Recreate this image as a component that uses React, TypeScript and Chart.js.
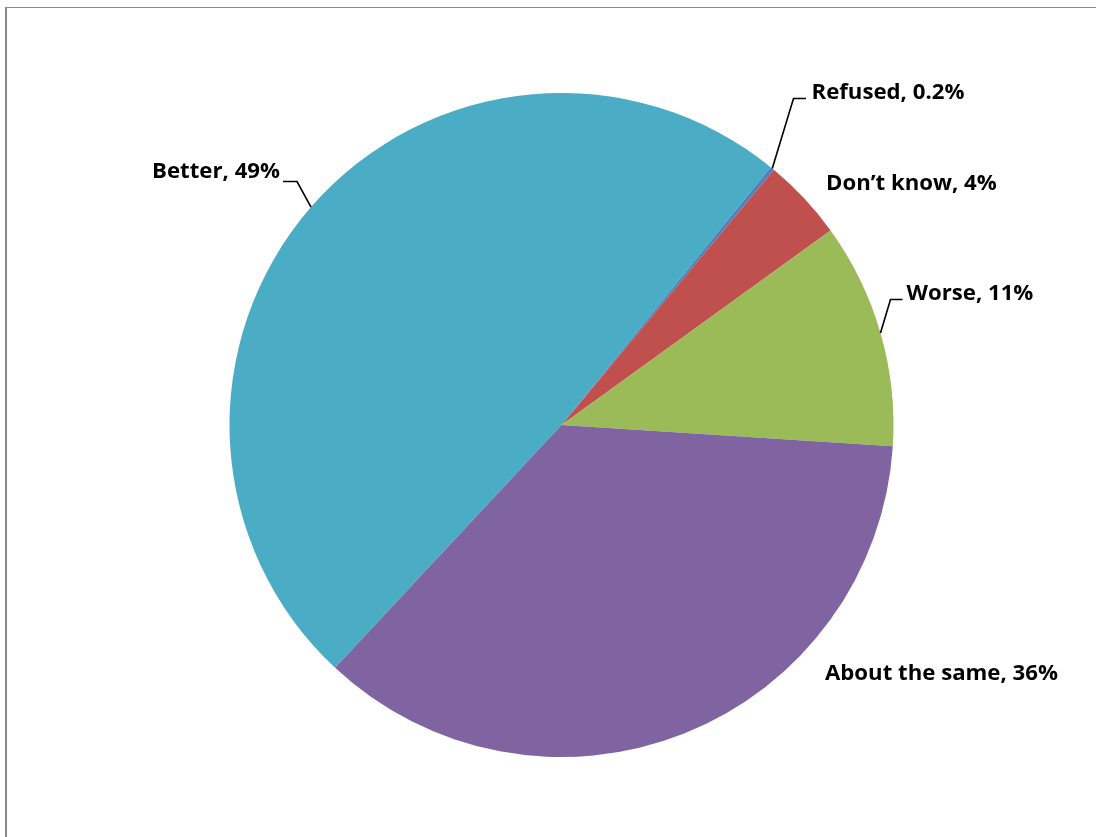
import React, { useEffect, useRef } from "react";
import { Chart, registerables } from "chart.js";

Chart.register(...registerables);

const categories = ["Better", "Refused", "Don\u2019t know", "Worse", "About the same"];
const values = [49, 0.2, 4, 11, 36];
const valueLabels = ["49%", "0.2%", "4%", "11%", "36%"];
const colors = ["#4BACC6", "#4F81BD", "#C0504D", "#9BBB59", "#8064A2"];

// label placement (text anchor, alignment, leader elbow + end)
const labelLayout: { x: number; y: number; align: "left" | "right"; leader: number[][] | null }[] = [
  { x: 280, y: 171, align: "right", leader: [[297, 181.5], [283, 181.5]] },
  { x: 811.5, y: 91.5, align: "left", leader: [[793.5, 98.5], [806, 98.5]] },
  { x: 826, y: 182.5, align: "left", leader: null },
  { x: 906.5, y: 292.5, align: "left", leader: [[890.5, 299.5], [902.5, 299.5]] },
  { x: 825, y: 672.5, align: "left", leader: null },
];

const FONT_FAMILY = "'Open Sans'";
const TARGET_WIDTH = 233; // width of the longest label in the reference

const labelPlugin = {
  id: "pieLabels",
  afterDatasetsDraw(chart: any) {
    const ctx = chart.ctx;
    const meta = chart.getDatasetMeta(0);
    ctx.save();
    const texts = categories.map((c, i) => `${c}, ${valueLabels[i]}`);
    ctx.font = `bold 20px ${FONT_FAMILY}`;
    const longest = Math.max(...texts.map((t) => ctx.measureText(t).width));
    const size = (20 * TARGET_WIDTH) / longest;
    meta.data.forEach((arc: any, i: number) => {
      const { x, y, outerRadius, startAngle, endAngle } = arc.getProps(
        ["x", "y", "outerRadius", "startAngle", "endAngle"],
        true
      );
      const mid = (startAngle + endAngle) / 2;
      const ax = x + outerRadius * Math.cos(mid);
      const ay = y + outerRadius * Math.sin(mid);
      const lay = labelLayout[i];
      if (lay.leader) {
        ctx.beginPath();
        ctx.moveTo(ax, ay);
        lay.leader.forEach((p) => ctx.lineTo(p[0], p[1]));
        ctx.strokeStyle = "#000000";
        ctx.lineWidth = 1.6;
        ctx.lineJoin = "miter";
        ctx.stroke();
      }
      ctx.font = `bold ${size.toFixed(2)}px ${FONT_FAMILY}`;
      ctx.fillStyle = "#000000";
      ctx.textBaseline = "middle";
      ctx.textAlign = lay.align;
      ctx.fillText(texts[i], lay.x, lay.y + 1);
    });
    ctx.restore();
  },
};

export default function App() {
  const ref = useRef<HTMLCanvasElement | null>(null);

  useEffect(() => {
    if (!ref.current) return;
    const chart = new Chart(ref.current, {
      type: "pie",
      data: {
        labels: categories,
        datasets: [
          {
            data: values,
            backgroundColor: colors,
            borderWidth: 0,
          },
        ],
      },
      options: {
        animation: false,
        responsive: false,
        devicePixelRatio: 1,
        rotation: 223,
        layout: { padding: { left: 229.5, top: 93, right: 202.5, bottom: 80 } },
        plugins: {
          legend: { display: false },
          tooltip: { enabled: false },
        },
      },
      plugins: [labelPlugin],
    });
    return () => chart.destroy();
  }, []);

  return (
    <div
      style={{
        position: "fixed",
        left: 0,
        top: 0,
        width: 1096,
        height: 837,
        overflow: "hidden",
        background: "#ffffff",
      }}
    >
      <div
        style={{
          position: "absolute",
          left: 5,
          top: 7,
          width: 1200,
          height: 1000,
          borderLeft: "2px solid #888888",
          borderTop: "1px solid #888888",
        }}
      />
      <canvas
        ref={ref}
        width={1096}
        height={837}
        style={{ position: "absolute", left: 0, top: 0, width: 1096, height: 837 }}
      />
    </div>
  );
}
